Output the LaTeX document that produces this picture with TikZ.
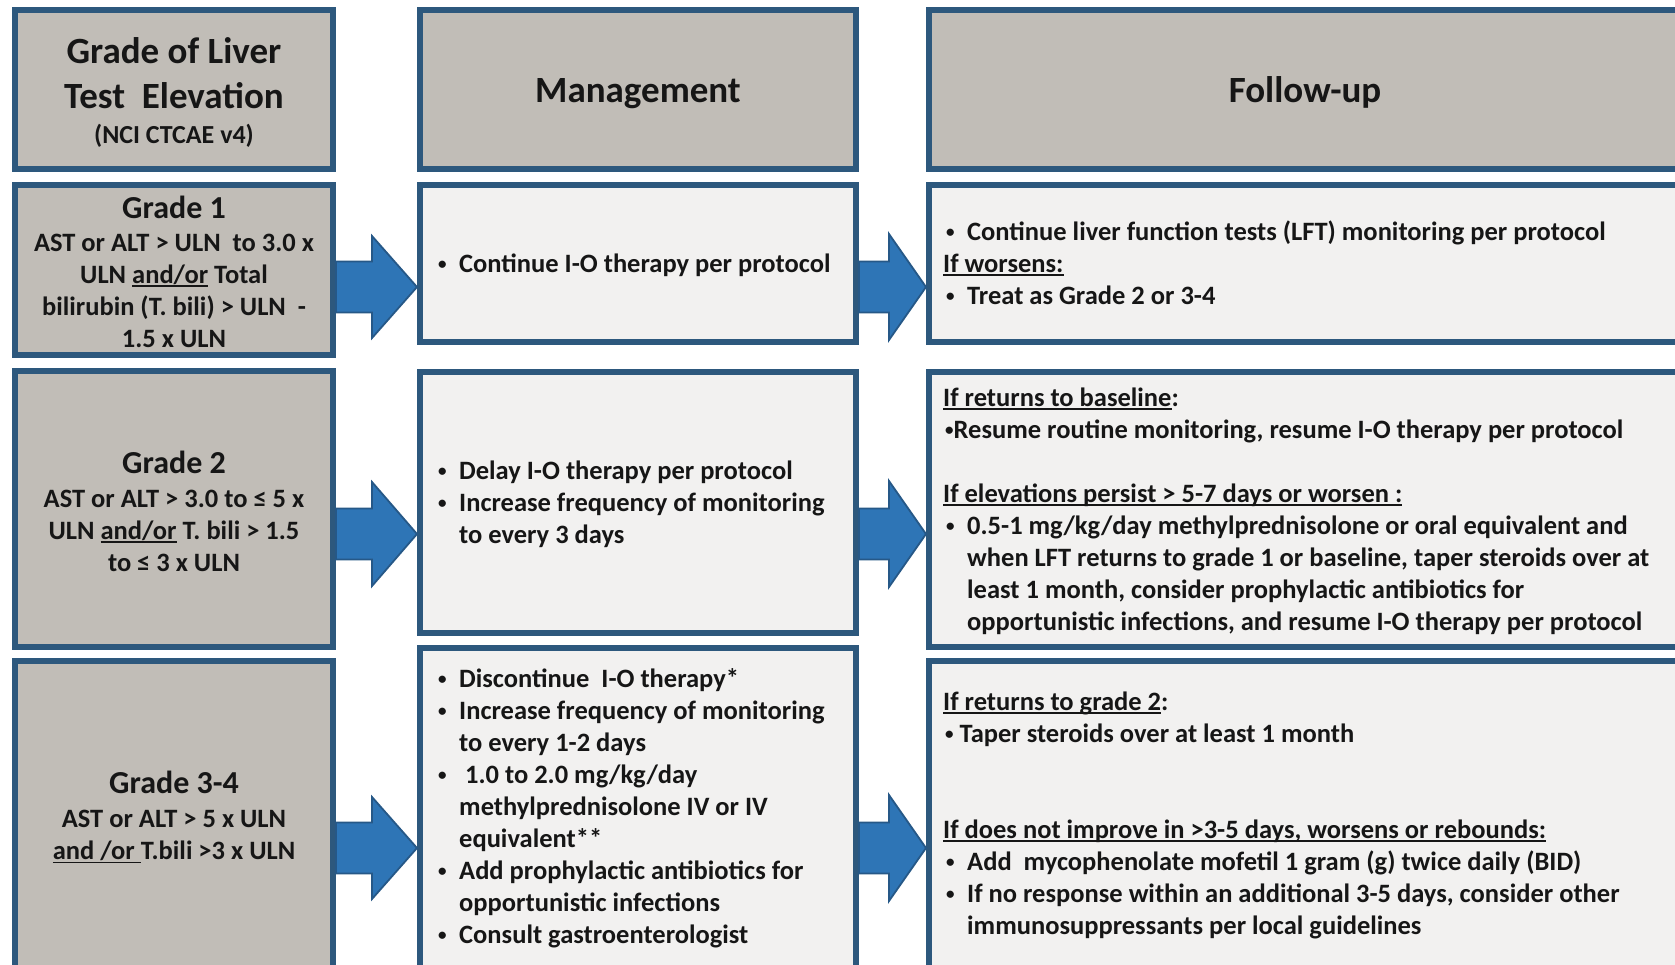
\documentclass[tikz,border=0pt]{standalone}
\usepackage{fontspec}
\setmainfont{Carlito}
\usetikzlibrary{calc}
\definecolor{bordc}{RGB}{45,88,125}
\definecolor{grayf}{RGB}{193,189,183}
\definecolor{lightf}{RGB}{242,241,240}
\definecolor{arrf}{RGB}{46,117,182}
\definecolor{arrd}{RGB}{38,88,135}
\definecolor{txt}{RGB}{22,22,22}
\newsavebox\ulbox
\newcommand\uln[1]{\sbox\ulbox{#1}\rlap{\rule[-3.5pt]{\wd\ulbox}{1.5pt}}\usebox\ulbox}
\newcommand\sdot{\raisebox{3pt}{\fontsize{17}{17}\selectfont •}}
\newcommand\bul{\makebox[23pt][l]{\hspace{2pt}\sdot}}
\newcommand\ind{\hspace*{23pt}}
\newcommand\rbul{\makebox[24pt][l]{\hspace{3pt}\sdot}}
\newcommand\rind{\hspace*{24pt}}
\newcommand\fatarrow[5]{%
  \draw[bigarrow] let \p1=(#1.east), \p2=(#2.west), \p3=(0,#3) in
  (\x1,{\y3+25.5pt}) -- ({\x2-#4pt},{\y3+25.5pt}) -- ({\x2-#4pt},{\y3+#5pt})
  -- (\x2,\y3) -- ({\x2-#4pt},{\y3-#5pt}) -- ({\x2-#4pt},{\y3-25.5pt})
  -- (\x1,{\y3-25.5pt}) -- cycle;}
\tikzset{
  basebox/.style={draw=bordc, line width=6pt, anchor=north west, inner sep=0pt},
  graybox/.style={basebox, fill=grayf},
  lightbox/.style={basebox, fill=lightf},
  txtblock/.style={anchor=north west, inner sep=0pt, align=left, text=txt,
    font=\bfseries\fontsize{26.5}{32}\selectfont},
  ctrblock/.style={anchor=north, inner sep=0pt, align=center, text=txt,
    font=\bfseries\fontsize{26.5}{32}\selectfont},
  headtext/.style={anchor=base, inner sep=0pt, text=txt,
    font=\bfseries\fontsize{37}{44}\selectfont},
  bigarrow/.style={fill=arrf, draw=arrd, line width=1.8pt, line join=miter},
}
\begin{document}
\begin{tikzpicture}[x=1pt,y=-1pt]
\useasboundingbox (0,0) rectangle (1675,964);
\clip (0,0) rectangle (1675,964);
\fill[white] (0,0) rectangle (1675,964);

% left column
\node[graybox, minimum width=318pt, minimum height=159pt] (h0) at (12,7) {};
\node[graybox, minimum width=318pt, minimum height=170pt] (g1) at (12,182) {};
\node[graybox, minimum width=318pt, minimum height=276pt] (g2) at (12,368) {};
\node[graybox, minimum width=318pt, minimum height=330pt] (g3) at (12,658) {};
% middle column
\node[graybox, minimum width=436pt, minimum height=159pt] (h1) at (417,7) {};
\node[lightbox, minimum width=436pt, minimum height=157pt] (m1) at (417,182) {};
\node[lightbox, minimum width=436pt, minimum height=261pt] (m2) at (417,369) {};
\node[lightbox, minimum width=436pt, minimum height=340pt] (m3) at (417,645) {};
% right column
\node[graybox, minimum width=752pt, minimum height=159pt] (h2) at (926,7) {};
\node[lightbox, minimum width=752pt, minimum height=157pt] (f1) at (926,182) {};
\node[lightbox, minimum width=752pt, minimum height=275pt] (f2) at (926,369) {};
\node[lightbox, minimum width=752pt, minimum height=330pt] (f3) at (926,658) {};

% arrows
\fatarrow{g1}{m1}{287}{45}{51}
\fatarrow{m1}{f1}{287}{37}{53}
\fatarrow{g2}{m2}{534}{45}{52}
\fatarrow{m2}{f2}{534}{37}{53}
\fatarrow{g3}{m3}{848}{45}{51}
\fatarrow{m3}{f3}{848}{37}{53}

% header texts
\node[ctrblock, font=\bfseries\fontsize{26}{35}\selectfont] (h0t) at (174,31)
  {\rule{0pt}{32pt}{\fontsize{37}{35}\selectfont Grade of Liver}\\[10pt]{\fontsize{37}{35}\selectfont Test\ \ Elevation}\\(NCI CTCAE v4)};
\node[headtext] (h1t) at (638,102) {Management};
\node[headtext] (h2t) at (1305,102) {Follow-up};

% left grade texts
\node[ctrblock] (g1t) at (174,190)
  {\rule{0pt}{28pt}{\fontsize{32}{32}\selectfont Grade 1}\\[1pt]AST or ALT > ULN\ \ to 3.0 x\\ULN \uln{and/or} Total\\bilirubin (T. bili) > ULN\ \ -\\1.5 x ULN};
\node[ctrblock] (g2t) at (174,445)
  {\rule{0pt}{28pt}{\fontsize{32}{32}\selectfont Grade 2}\\[2pt]AST or ALT > 3.0 to ≤ 5 x\\ULN \uln{and/or} T. bili > 1.5\\to ≤ 3 x ULN};
\node[ctrblock] (g3t) at (174,765)
  {\rule{0pt}{28pt}{\fontsize{32}{32}\selectfont Grade 3-4}\\[2.5pt]AST or ALT > 5 x ULN\\\uln{and /or\ }T.bili >3 x ULN};

% middle texts
\node[txtblock] (m1t) at (436,248)
  {\rule{0pt}{24pt}\bul Continue I-O therapy per protocol};
\node[txtblock] (m2t) at (436,455)
  {\rule{0pt}{24pt}\bul Delay I-O therapy per protocol\\\bul Increase frequency of monitoring\\\ind to every 3 days};
\node[txtblock] (m3t) at (436,663)
  {\rule{0pt}{24pt}\bul Discontinue\ \ I-O therapy*\\\bul Increase frequency of monitoring\\\ind to every 1-2 days\\\bul\ 1.0 to 2.0 mg/kg/day\\\ind methylprednisolone IV or IV\\\ind equivalent**\\\bul Add prophylactic antibiotics for\\\ind opportunistic infections\\\bul Consult gastroenterologist};

% right texts
\node[txtblock] (f1t) at (943,216)
  {\rule{0pt}{24pt}\rbul Continue liver function tests (LFT) monitoring per protocol\\\uln{If worsens:}\\\rbul Treat as Grade 2 or 3-4};
\node[txtblock] (f2t) at (943,382)
  {\rule{0pt}{24pt}\uln{If returns to baseline}:\\\hspace{2pt}\sdot Resume routine monitoring, resume I-O therapy per protocol\\[32pt]\uln{If elevations persist > 5-7 days or worsen :}\\\rbul 0.5-1 mg/kg/day methylprednisolone or oral equivalent and\\\rind when LFT returns to grade 1 or baseline, taper steroids over at\\\rind least 1 month, consider prophylactic antibiotics for\\\rind opportunistic infections, and resume I-O therapy per protocol};
\node[txtblock] (f3t) at (943,686)
  {\rule{0pt}{24pt}\uln{If returns to grade 2}:\\\hspace{2pt}\sdot\ Taper steroids over at least 1 month\\[64pt]\uln{If does not improve in >3-5 days, worsens or rebounds:}\\\rbul Add\ \ mycophenolate mofetil 1 gram (g) twice daily (BID)\\\rbul If no response within an additional 3-5 days, consider other\\\rind immunosuppressants per local guidelines};
\end{tikzpicture}
\end{document}
